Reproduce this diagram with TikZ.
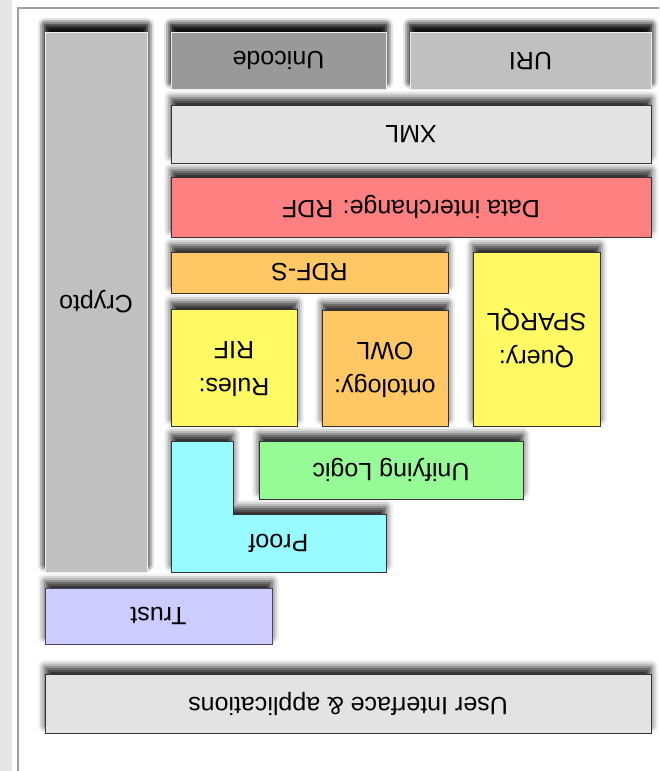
\documentclass[tikz,border=0pt]{standalone}
\usepackage{fontspec}
\setmainfont{Liberation Sans}
\usepackage{graphicx}
\usetikzlibrary{shadows.blur}
\definecolor{stripgray}{HTML}{E6E6E6}
\definecolor{framegray}{HTML}{A0A0A0}
\definecolor{edgegray}{HTML}{333333}
\definecolor{lightedge}{HTML}{EEEEEE}
\definecolor{cryptogray}{HTML}{C0C0C0}
\definecolor{unicodegray}{HTML}{999999}
\definecolor{xmlgray}{HTML}{E3E3E3}
\definecolor{rdfred}{HTML}{FF8080}
\definecolor{rdfsorange}{HTML}{FFC864}
\definecolor{ruleyellow}{HTML}{FFFA64}
\definecolor{logicgreen}{HTML}{96FA96}
\definecolor{proofcyan}{HTML}{96FAFF}
\definecolor{trustblue}{HTML}{CCCCFF}
\definecolor{trustedge}{HTML}{504060}
\tikzset{
  layer/.style={draw=edgegray, line width=0.9pt, inner sep=0pt,
    blur shadow={shadow xshift=0pt, shadow yshift=7pt,
      shadow blur radius=7pt, shadow opacity=85},
    font=\fontsize{25}{37}\selectfont},
  palelayer/.style={layer, draw=lightedge},
}
% [style]{name}{x1}{y1}{x2}{y2}{text}, picture is drawn upside down
\newcommand{\layerbox}[7][]{%
  \node[layer,#1,minimum width={#5-#3},minimum height={#6-#4}] (#2)
    at ({(#3+#5)/2},{(#4+#6)/2}) {\rotatebox{180}{#7}};%
}
\newcommand{\twolines}[2]{\begin{tabular}{@{}c@{}}#1\\#2\end{tabular}}

\begin{document}
\begin{tikzpicture}[x=1pt,y=-1pt]
  \useasboundingbox (0,0) rectangle (659,771);
  \fill[stripgray] (0,0) rectangle (12,771);
  \draw[framegray,line width=1.5pt] (18,771)--(18,8)--(659,8);
  % bottom of the image first
  \layerbox[fill=xmlgray]{ui}{45}{674}{651}{733}{User Interface \& applications}
  \layerbox[fill=trustblue,draw=trustedge]{trust}{45}{588}{272}{644}{Trust}
  \draw[layer,fill=proofcyan] (171,441)--(233,441)--(233,514)--(386,514)
    --(386,572)--(171,572)--cycle;
  \node[font=\fontsize{25}{37}\selectfont] (proof) at (278.5,543) {\rotatebox{180}{Proof}};
  \layerbox[palelayer,fill=cryptogray]{crypto}{45}{32}{147}{572}{Crypto}
  \layerbox[fill=logicgreen]{logic}{259}{441}{523}{499}{Unifying Logic}
  \layerbox[fill=ruleyellow]{rif}{171}{309}{297}{426}{\twolines{Rules:}{RIF}}
  \layerbox[fill=rdfsorange]{owl}{322}{310}{448}{426}{\twolines{ontology:}{OWL}}
  \layerbox[fill=ruleyellow]{sparql}{473}{252}{600}{426}{\twolines{Query:}{SPARQL}}
  \layerbox[fill=rdfsorange]{rdfs}{171}{252}{448}{293}{RDF-S}
  \layerbox[fill=rdfred]{rdf}{171}{177}{651}{237}{Data interchange: RDF}
  \layerbox[fill=xmlgray]{xml}{171}{105}{651}{163}{XML}
  \layerbox[palelayer,fill=unicodegray]{unicode}{171}{32}{386}{89}{Unicode}
  \layerbox[palelayer,fill=cryptogray]{uri}{410}{32}{651}{89}{URI}
\end{tikzpicture}
\end{document}
